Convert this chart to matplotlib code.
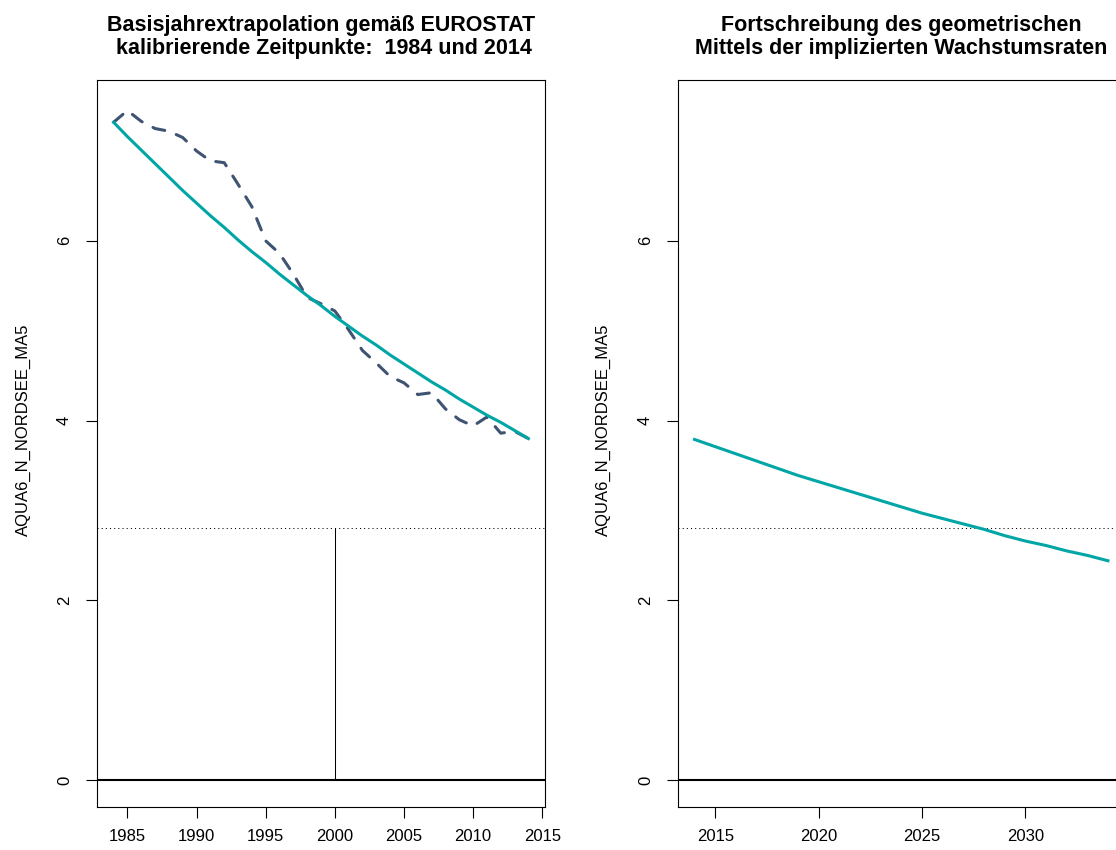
import matplotlib
matplotlib.use("Agg")
import matplotlib.pyplot as plt
import numpy as np

plt.rcParams['font.family'] = ['Liberation Sans', 'DejaVu Sans']

# Stuetzzeitraum 1984-2014
years_base = np.arange(1984, 2015)
observed_ma5 = [7.32, 7.45, 7.33, 7.25, 7.22, 7.15, 7.00, 6.89, 6.87, 6.63,
                6.38, 6.00, 5.86, 5.63, 5.37, 5.30, 5.22, 5.01, 4.78, 4.64,
                4.49, 4.42, 4.29, 4.31, 4.13, 4.01, 3.94, 4.04, 3.86, 3.88,
                3.80]
extrapolated = [7.32, 7.16, 7.01, 6.86, 6.71, 6.56, 6.42, 6.28, 6.15, 6.01,
                5.88, 5.76, 5.63, 5.51, 5.39, 5.28, 5.16, 5.05, 4.94, 4.84,
                4.73, 4.63, 4.53, 4.43, 4.34, 4.24, 4.15, 4.06, 3.98, 3.89,
                3.80]

# Fortschreibung 2014-2034
years_proj = np.arange(2014, 2035)
projected = [3.79, 3.71, 3.63, 3.55, 3.47, 3.39, 3.32, 3.25, 3.18, 3.11,
             3.04, 2.97, 2.91, 2.85, 2.79, 2.72, 2.66, 2.61, 2.55, 2.50,
             2.44]

ref_year = 2000
threshold = 2.8

title_left = "Basisjahrextrapolation gemäß EUROSTAT\n kalibrierende Zeitpunkte:  1984 und 2014"
title_right = "Fortschreibung des geometrischen\nMittels der implizierten Wachstumsraten"
ylab = "AQUA6_N_NORDSEE_MA5"

teal = "#00A6A6"
slate = "#3F5372"

W, H = 1116, 850
fig = plt.figure(figsize=(W / 100, H / 100), dpi=100)

ax1 = fig.add_axes([97 / W, 1 - 807 / H, (545 - 97) / W, (807 - 80) / H])
ax2 = fig.add_axes([678 / W, 1 - 807 / H, (1124.5 - 678) / W, (807 - 80) / H])


def style_axes(ax, xlim, xticks):
    ax.set_xlim(*xlim)
    ax.set_ylim(-0.30, 7.79)
    ax.set_xticks(xticks)
    ax.set_yticks([0, 2, 4, 6])
    ax.tick_params(axis='both', direction='out', length=8, width=0.8,
                   labelsize=12, color='black')
    ax.tick_params(axis='x', pad=8)
    ax.tick_params(axis='y', pad=10, labelrotation=90)
    for lbl in ax.get_yticklabels():
        lbl.set_va('center')
    for sp in ax.spines.values():
        sp.set_linewidth(0.8)
        sp.set_color('black')
    ax.axhline(0, color='black', lw=1.5, zorder=2)
    ax.axhline(threshold, color='black', lw=0.75, ls=(0, (1, 3)), zorder=2)


style_axes(ax1, (1982.8, 2015.2), [1985, 1990, 1995, 2000, 2005, 2010, 2015])
ax1.plot([ref_year, ref_year], [0, threshold], color='black', lw=0.75, zorder=2)
ax1.plot(years_base, observed_ma5, color=slate, lw=2.2, ls=(0, (4, 4)),
         dash_capstyle='round', zorder=3)
ax1.plot(years_base, extrapolated, color=teal, lw=2.2, zorder=4)
ax1.set_title(title_left, fontsize=15.5, fontweight='bold', pad=18.5,
              linespacing=1.15)

style_axes(ax2, (2013.2, 2034.8), [2015, 2020, 2025, 2030])
ax2.plot(years_proj, projected, color=teal, lw=2.2, zorder=4)
ax2.set_title(title_right, fontsize=15.5, fontweight='bold', pad=18.5,
              linespacing=1.15)

fig.text(23 / W, 1 - 430 / H, ylab, rotation=90, ha='center', va='center',
         fontsize=12)
fig.text(603 / W, 1 - 430 / H, ylab, rotation=90, ha='center', va='center',
         fontsize=12)

fig.savefig("out.png", dpi=100)
